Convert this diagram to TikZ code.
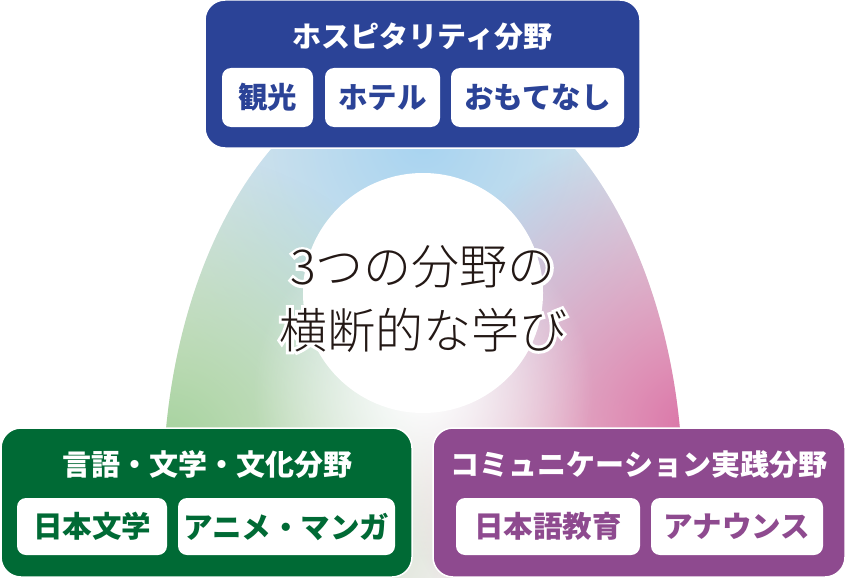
\documentclass[tikz,border=0pt]{standalone}
\usepackage{fontspec}
\setmainfont{Noto Sans CJK JP}
\IfFontExistsTF{Noto Sans CJK JP Light}
  {\newfontfamily\lightjp{Noto Sans CJK JP Light}\newfontfamily\halojp{Noto Sans CJK JP Light}[FakeBold=12]}
  {\newfontfamily\lightjp{Noto Sans CJK JP}\newfontfamily\halojp{Noto Sans CJK JP}[FakeBold=12]}
\usetikzlibrary{fadings}
\definecolor{hospblue}{HTML}{2B4397}
\definecolor{langgreen}{HTML}{006A35}
\definecolor{commpurple}{HTML}{8E4A8F}
\definecolor{skyL}{HTML}{A8D4F1}
\definecolor{leafL}{HTML}{A4D29C}
\definecolor{roseL}{HTML}{DB76A8}
\definecolor{baseL}{HTML}{ECECE8}
\definecolor{inkC}{HTML}{231815}
\tikzfading[name=radfade, inner color=transparent!0, outer color=transparent!100]
\tikzset{
  fieldbox/.style={draw=white, line width=1.5pt, rounded corners=20pt, inner sep=0pt},
  itembox/.style={fill=white, rounded corners=9pt, inner sep=0pt, font=\bfseries\fontsize{29.5}{34}\selectfont},
  fieldtitle/.style={text=white, inner sep=0pt, font=\bfseries\fontsize{29}{34}\selectfont},
  centertext/.style={inner sep=0pt, text=inkC, font=\lightjp\fontsize{48}{54}\selectfont},
  centerhalo/.style={inner sep=0pt, text=white, font=\halojp\fontsize{48}{54}\selectfont}
}
\begin{document}
\begin{tikzpicture}[x=1pt,y=-1pt]
\useasboundingbox (0,0) rectangle (846,578);
% gradient arch
\begin{scope}
  \clip (163,494) arc[start angle=180, end angle=360, x radius=260, y radius=425] -- (683,578) -- (163,578) -- cycle;
  \fill[baseL] (0,0) rectangle (846,578);
  \fill[skyL, path fading=radfade] (423,140) circle (330);
  \fill[leafL, path fading=radfade] (165,450) circle (300);
  \fill[roseL, path fading=radfade] (690,425) circle (300);
  \fill[white, path fading=radfade] (423,390) circle (170);
\end{scope}
\fill[white] (423,293) circle (120);
% center text with white halo
\node[centerhalo] (halo1) at (423,267) {3つの分野の};
\node[centerhalo] (halo2) at (423,330) {横断的な学び};
\node[centertext] (line1) at (423,267) {3つの分野の};
\node[centertext] (line2) at (423,330) {横断的な学び};
% top field
\node[fieldbox, fill=hospblue, minimum width=435pt, minimum height=148pt] (hosp) at (422.5,74) {};
\node[fieldtitle] (hospT) at (422.5,37) {ホスピタリティ分野};
\node[itembox, text=hospblue, minimum width=91pt, minimum height=59pt] (kanko) at (267.5,97.5) {観光};
\node[itembox, text=hospblue, minimum width=115pt, minimum height=59pt] (hotel) at (382.5,97.5) {ホテル};
\node[itembox, text=hospblue, minimum width=173pt, minimum height=59pt] (omote) at (537.5,97.5) {おもてなし};
% left field
\node[fieldbox, fill=langgreen, minimum width=411pt, minimum height=149pt] (lang) at (206.5,502.5) {};
\node[fieldtitle] (langT) at (207,465) {言語・文学・文化分野};
\node[itembox, text=langgreen, minimum width=150pt, minimum height=57pt] (nihonbun) at (92,526.5) {日本文学};
\node[itembox, text=langgreen, minimum width=217pt, minimum height=57pt] (anime) at (286.5,526.5) {アニメ・マンガ};
% right field
\node[fieldbox, fill=commpurple, minimum width=412pt, minimum height=149pt] (comm) at (639,502.5) {};
\node[fieldtitle] (commT) at (639,465) {コミュニケーション実践分野};
\node[itembox, text=commpurple, minimum width=184pt, minimum height=57pt] (nihongo) at (548,526.5) {日本語教育};
\node[itembox, text=commpurple, minimum width=172pt, minimum height=57pt] (announce) at (737,526.5) {アナウンス};
\end{tikzpicture}
\end{document}
